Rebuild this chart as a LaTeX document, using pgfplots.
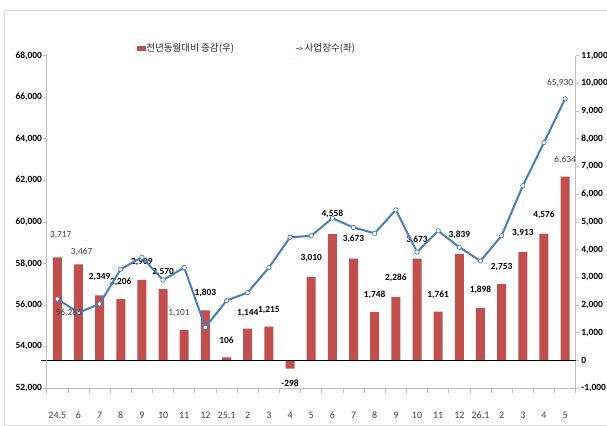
\documentclass[border=0pt]{standalone}
\usepackage{pgfplots}
\usepackage{pgfplotstable}
\pgfplotsset{compat=1.18}
\usepackage{fontspec}
\setmainfont{Carlito}
\newfontfamily\kr{Noto Sans CJK KR}
\definecolor{barred}{HTML}{C0504D}
\definecolor{lineblue}{HTML}{4A7EBB}
\definecolor{axgray}{HTML}{BFBFBF}
\definecolor{framegray}{HTML}{D9D9D9}
\definecolor{txtgray}{HTML}{404040}

\pgfplotstableread{
x bar line
0 3717 56286
1 3467 55630
2 2349 56050
3 2206 57720
4 2909 58300
5 2570 57200
6 1101 57800
7 1803 54920
8 106 56210
9 1144 56600
10 1215 57800
11 -298 59260
12 3010 59330
13 4558 60180
14 3673 59730
15 1748 59450
16 2286 60580
17 3673 58550
18 1761 59570
19 3839 58780
20 1898 58120
21 2753 59340
22 3913 61740
23 4576 63820
24 6634 65930
}\data

\pgfplotstableread{
x y lab
2 3021 2,349
3 2840 2,206
4 3563 2,909
5 3202 2,570
7 2443 1,803
8 709 106
9 1720 1,144
10 1818 1,215
11 -830 -298
12 3686 3,010
13 5286 4,558
14 4372 3,673
15 2360 1,748
16 2963 2,286
17 4347 3,673
18 2360 1,761
19 4527 3,839
20 2540 1,898
21 3382 2,753
22 4589 3,913
23 5250 4,576
}\boldlabels

\pgfplotstableread{
x y lab
0.16 4527 3,717
1.15 3902 3,467
5.75 1720 1,101
24 7237 6,634
}\plainlabels

\pgfplotstableread{
x y lab
0.54 55629 56,286
23.76 66684 65,930
}\linelabels

\begin{document}
\begin{tikzpicture}
% frame
\draw[framegray, line width=0.8pt] (4bp,1bp) rectangle (612bp,416bp);
% right axis: bars
\begin{axis}[
  at={(46.7bp,38bp)}, anchor=south west, scale only axis,
  width=529bp, height=332.2bp,
  xmin=-0.5, xmax=24.5, ymin=-1000, ymax=11000,
  axis x line=none, axis y line*=right,
  ytick={-1000,0,...,11000},
  scaled y ticks=false,
  /pgf/number format/1000 sep={,},
  /pgf/number format/assume math mode=true,
  axis line style={axgray, line width=0.7pt},
  tick style={axgray, line width=0.7pt},
  tick align=outside, major tick length=3.5bp,
  yticklabel style={font=\bfseries\fontsize{9.5}{10}\selectfont, text=black, anchor=west, inner sep=0pt, xshift=2bp},
  clip=false,
]
\addplot[ybar, bar width=0.425, bar shift=0pt, fill=barred, draw=none] table[x=x,y=bar]{\data};
\addplot[black, line width=0.8pt, no marks] coordinates {(-0.78,0) (24.5,0)};
\addplot[draw=none, mark=none, nodes near coords, point meta=explicit symbolic,
  nodes near coords style={anchor=center, inner sep=0pt, font=\bfseries\fontsize{9.4}{10}\selectfont, text=black}]
  table[x=x,y=y,meta=lab]{\boldlabels};
\addplot[draw=none, mark=none, nodes near coords, point meta=explicit symbolic,
  nodes near coords style={anchor=center, inner sep=0pt, font=\fontsize{9.4}{10}\selectfont, text=txtgray}]
  table[x=x,y=y,meta=lab]{\plainlabels};
\end{axis}
% left axis: line
\begin{axis}[
  at={(46.7bp,38bp)}, anchor=south west, scale only axis,
  width=529bp, height=332.2bp,
  xmin=-0.5, xmax=24.5, ymin=52000, ymax=68000,
  axis x line*=bottom, axis y line*=left,
  ytick={52000,54000,...,68000},
  scaled y ticks=false,
  /pgf/number format/1000 sep={,},
  /pgf/number format/assume math mode=true,
  xtick={0,...,24},
  xticklabels={24.5,6,7,8,9,10,11,12,25.1,2,3,4,5,6,7,8,9,10,11,12,26.1,2,3,4,5},
  minor xtick={-0.5,0.5,...,24.5},
  axis line style={axgray, line width=0.7pt},
  tick style={axgray, line width=0.7pt},
  tick align=outside, major tick length=3.5bp, minor tick length=4.5bp,
  xtick style={draw=none},
  minor x tick style={draw=axgray, line width=0.7pt},
  xticklabel style={font=\fontsize{10}{11}\selectfont, text=txtgray, anchor=center, inner sep=0pt, yshift=-23.7bp},
  yticklabel style={font=\bfseries\fontsize{9.5}{10}\selectfont, text=black, anchor=east, inner sep=0pt, xshift=-1bp},
  clip=false,
  legend columns=2,
  legend style={at={(rel axis cs:0.171,1.022)}, anchor=west, draw=none, fill=none,
    inner sep=0pt, font=\kr\fontsize{9.6}{11}\selectfont, text=black!85,
    nodes={inner sep=0.8bp},
    /tikz/every even column/.append style={column sep=61bp}},
]
\addlegendimage{legend image code/.code={\fill[barred] (0bp,-2.2bp) rectangle (7.7bp,2.2bp);}}
\addlegendentry{전년동월대비 증감(우)}
\addplot[lineblue, line width=2bp, mark=*, mark size=2.2bp,
  mark options={fill=white, draw=lineblue, line width=0.7pt},
  legend image code/.code={\draw[lineblue, line width=1pt] (0bp,0bp) -- (7bp,0bp); \draw[lineblue, fill=white, line width=0.5pt] (4bp,0bp) circle (1.4bp);}]
  table[x=x,y=line]{\data};
\addlegendentry{사업장수(좌)}
\addplot[draw=none, mark=none, nodes near coords, point meta=explicit symbolic,
  nodes near coords style={anchor=center, inner sep=0pt, font=\fontsize{9.4}{10}\selectfont, text=txtgray}]
  table[x=x,y=y,meta=lab]{\linelabels};
\end{axis}
\pgfresetboundingbox
\useasboundingbox (0bp,0bp) rectangle (607bp,426bp);
\end{tikzpicture}
\end{document}
